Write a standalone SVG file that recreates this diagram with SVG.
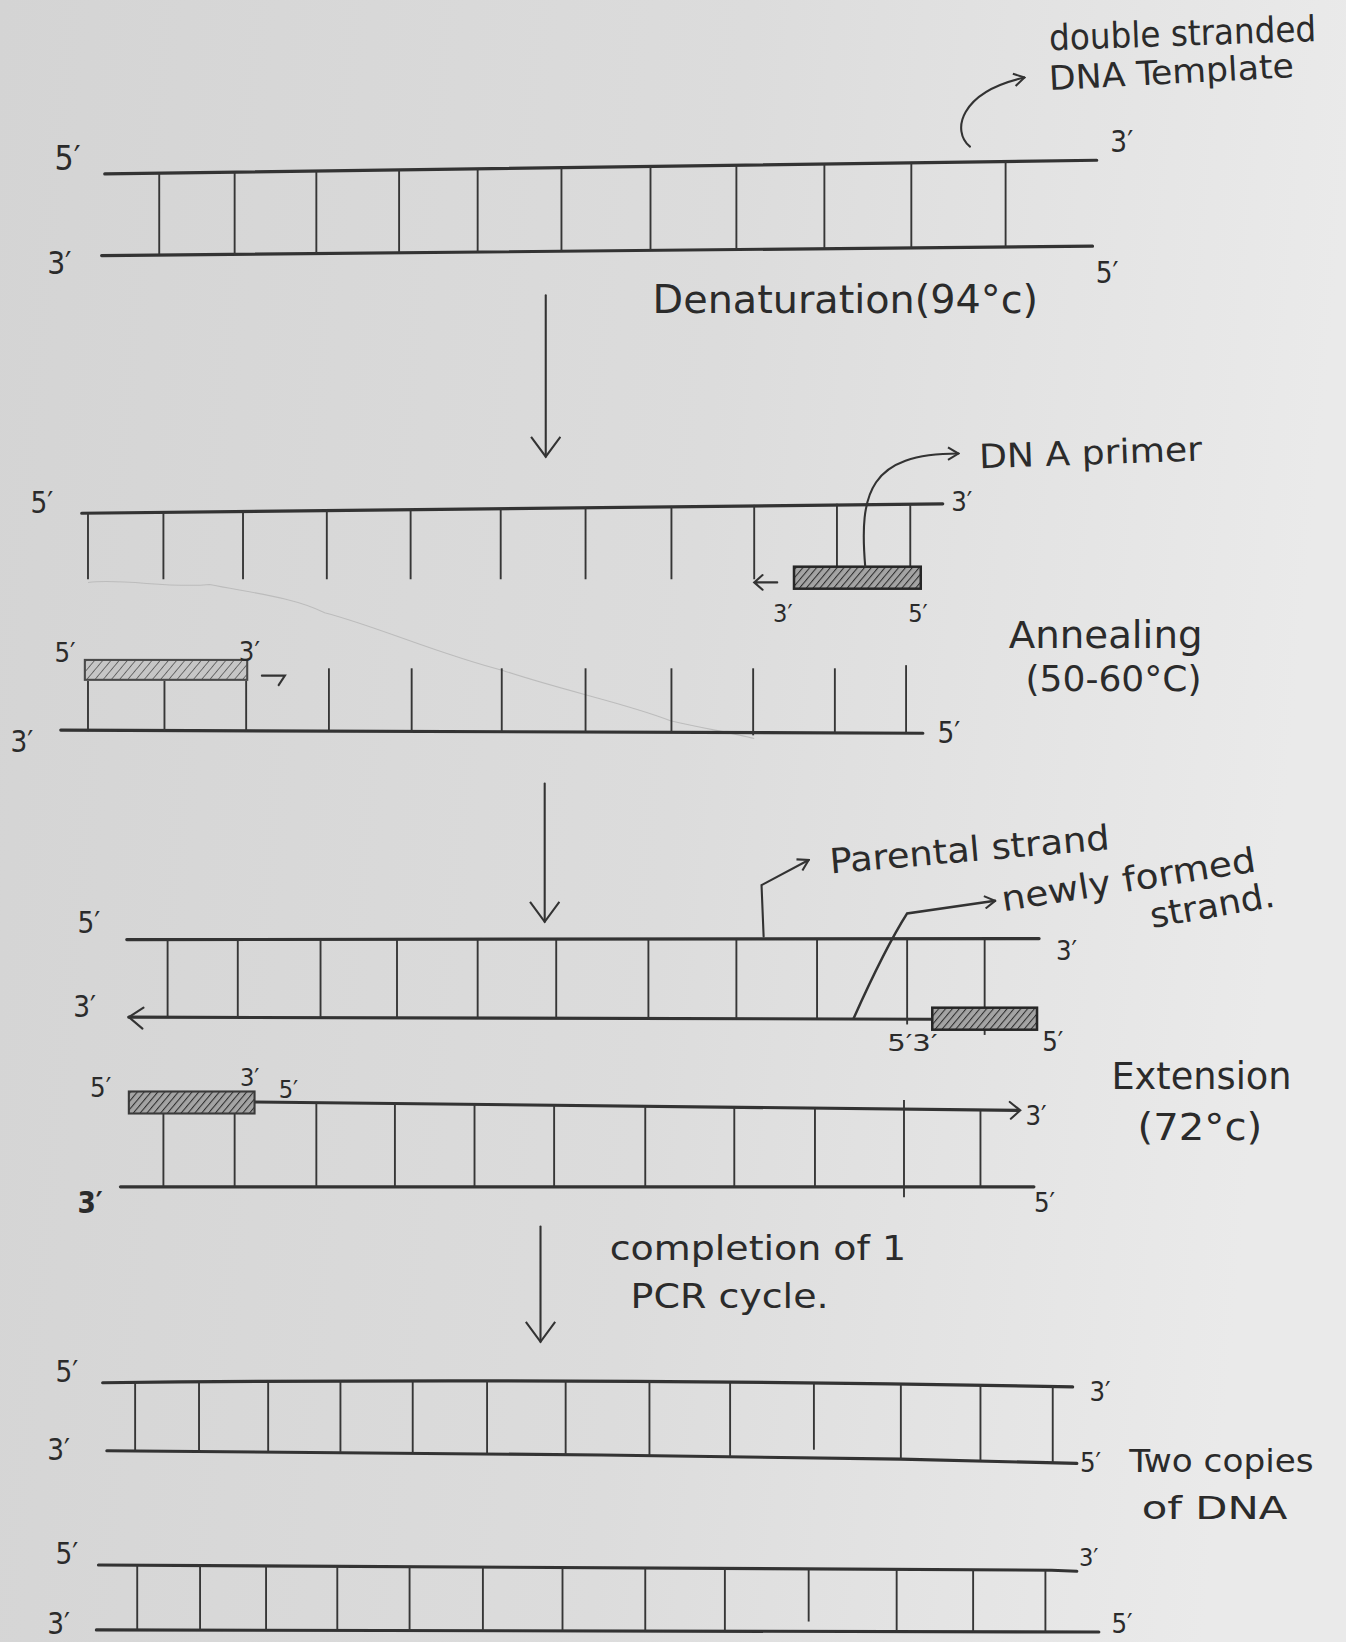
<svg xmlns="http://www.w3.org/2000/svg" width="1346" height="1642" viewBox="0 0 1346 1642">
  <defs>
    <linearGradient id="paper" x1="0" y1="0" x2="1" y2="0.12">
      <stop offset="0" stop-color="#d4d4d4"/>
      <stop offset="0.55" stop-color="#dcdcdc"/>
      <stop offset="1" stop-color="#eaeaea"/>
    </linearGradient>
    <pattern id="hatch-dark" width="5" height="5" patternUnits="userSpaceOnUse" patternTransform="rotate(40)">
      <rect width="5" height="5" fill="#a4a4a4"/>
      <line x1="0" y1="0" x2="0" y2="5" stroke="#2e2e2e" stroke-width="2"/>
    </pattern>
    <pattern id="hatch-light" width="6" height="6" patternUnits="userSpaceOnUse" patternTransform="rotate(40)">
      <rect width="6" height="6" fill="#c6c6c6"/>
      <line x1="0" y1="0" x2="0" y2="6" stroke="#555" stroke-width="1.5"/>
    </pattern>
    <marker id="vee-lg" viewBox="0 0 22 30" refX="20" refY="15" markerWidth="22" markerHeight="30" markerUnits="userSpaceOnUse" orient="auto">
      <path d="M1,1 L20,15 L1,29" fill="none" stroke="#333" stroke-width="2"/>
    </marker>
    <marker id="vee-sm" viewBox="0 0 12 14" refX="11" refY="7" markerWidth="12" markerHeight="14" markerUnits="userSpaceOnUse" orient="auto">
      <path d="M1,1 L11,7 L1,13" fill="none" stroke="#333" stroke-width="2"/>
    </marker>
  </defs>
  <style>
    .strand{fill:none;stroke:#333;stroke-width:3;stroke-linecap:round}
    .rung{stroke:#363636;stroke-width:1.8}
    .txt{font-family:"Liberation Sans Narrow","DejaVu Sans Condensed","Liberation Sans",sans-serif;fill:#2b2b2b}
    .arrow{fill:none;stroke:#333;stroke-width:2;stroke-linecap:round}
    .primer-d{fill:url(#hatch-dark);stroke:#262626;stroke-width:2.4}
    .primer-l{fill:url(#hatch-light);stroke:#4a4a4a;stroke-width:2}
  </style>

  <!-- paper -->
  <rect width="1346" height="1642" fill="url(#paper)"/>

  <g transform="scale(1.0475)">
    <!-- faint crease in the sheet -->
    <path d="M84,556 C120,552 160,562 200,558 C240,566 280,570 310,585 C360,598 420,625 480,640 C540,660 600,672 640,688 C670,695 700,700 720,705" fill="none" stroke="#bcbcbc" stroke-width="1"/>

    <!-- double stranded template -->
    <g id="template">
      <path class="strand" d="M100,166 L1047,153"/>
      <path class="strand" d="M97,244 L1043,235"/>
      <g class="rung">
        <line x1="152" y1="165" x2="152" y2="243"/>
        <line x1="224" y1="164" x2="224" y2="243"/>
        <line x1="302" y1="163" x2="302" y2="242"/>
        <line x1="381" y1="162" x2="381" y2="241"/>
        <line x1="456" y1="161" x2="456" y2="241"/>
        <line x1="536" y1="160" x2="536" y2="240"/>
        <line x1="621" y1="159" x2="621" y2="239"/>
        <line x1="703" y1="158" x2="703" y2="238"/>
        <line x1="787" y1="157" x2="787" y2="237"/>
        <line x1="870" y1="155" x2="870" y2="237"/>
        <line x1="960" y1="154" x2="960" y2="236"/>
      </g>
      <text class="txt" x="52" y="162" font-size="32">5′</text>
      <text class="txt" x="45" y="262" font-size="30">3′</text>
      <text class="txt" x="1060" y="145" font-size="28">3′</text>
      <text class="txt" x="1046" y="270" font-size="28">5′</text>
    </g>

    <g id="template-label">
      <text class="txt" x="1002" y="48" font-size="34" textLength="255" lengthAdjust="spacingAndGlyphs" transform="rotate(-2 1002 48)">double stranded</text>
      <text class="txt" x="1002" y="86" font-size="32" textLength="234" lengthAdjust="spacingAndGlyphs" transform="rotate(-3 1002 86)">DNA Template</text>
    </g>

    <g id="denaturation-label">
      <text class="txt" x="623" y="299" font-size="37" textLength="368" lengthAdjust="spacingAndGlyphs">Denaturation(94°c)</text>
    </g>

    <!-- annealing: separated strands with primers -->
    <g id="annealing-upper">
      <path class="strand" d="M78,490 L900,481"/>
      <g class="rung">
        <line x1="84" y1="490" x2="84" y2="553"/>
        <line x1="156" y1="489" x2="156" y2="553"/>
        <line x1="232" y1="488" x2="232" y2="553"/>
        <line x1="312" y1="487" x2="312" y2="553"/>
        <line x1="392" y1="486" x2="392" y2="553"/>
        <line x1="478" y1="485" x2="478" y2="553"/>
        <line x1="559" y1="484" x2="559" y2="553"/>
        <line x1="641" y1="483" x2="641" y2="553"/>
        <line x1="720" y1="482" x2="720" y2="553"/>
        <line x1="799" y1="481" x2="799" y2="541"/>
        <line x1="869" y1="481" x2="869" y2="541"/>
      </g>
      <rect class="primer-d" x="758" y="541" width="121" height="21"/>
      <path class="arrow" d="M742,556 L720,556 M728,549 L720,556 L728,563"/>
      <text class="txt" x="29" y="490" font-size="28">5′</text>
      <text class="txt" x="908" y="488" font-size="26">3′</text>
      <text class="txt" x="738" y="594" font-size="24">3′</text>
      <text class="txt" x="867" y="594" font-size="24">5′</text>
    </g>

    <g id="primer-label">
      <text class="txt" x="935" y="447" font-size="32" textLength="213" lengthAdjust="spacingAndGlyphs" transform="rotate(-2 935 447)">DN A primer</text>
    </g>

    <g id="annealing-lower">
      <path class="strand" d="M58,697 L881,700"/>
      <g class="rung">
        <line x1="84" y1="650" x2="84" y2="698"/>
        <line x1="157" y1="650" x2="157" y2="698"/>
        <line x1="235" y1="650" x2="235" y2="698"/>
        <line x1="314" y1="638" x2="314" y2="698"/>
        <line x1="393" y1="638" x2="393" y2="698"/>
        <line x1="479" y1="638" x2="479" y2="699"/>
        <line x1="559" y1="638" x2="559" y2="699"/>
        <line x1="641" y1="638" x2="641" y2="699"/>
        <line x1="719" y1="638" x2="719" y2="702"/>
        <line x1="797" y1="638" x2="797" y2="700"/>
        <line x1="865" y1="635" x2="865" y2="700"/>
      </g>
      <rect class="primer-l" x="81" y="630" width="155" height="19"/>
      <path class="arrow" d="M250,645 L272,645 L266,654"/>
      <text class="txt" x="52" y="632" font-size="26">5′</text>
      <text class="txt" x="228" y="631" font-size="26">3′</text>
      <text class="txt" x="10" y="718" font-size="28">3′</text>
      <text class="txt" x="895" y="709" font-size="28">5′</text>
    </g>

    <g id="annealing-label">
      <text class="txt" x="963" y="619" font-size="36" textLength="185" lengthAdjust="spacingAndGlyphs">Annealing</text>
      <text class="txt" x="979" y="660" font-size="34" textLength="168" lengthAdjust="spacingAndGlyphs">(50-60°C)</text>
    </g>

    <!-- extension -->
    <g id="extension-upper">
      <path class="strand" d="M121,897 L992,896"/>
      <path class="strand" d="M123,971 L889,973"/>
      <path class="arrow" d="M137,962 L123,971 L136,982"/>
      <g class="rung">
        <line x1="160" y1="897" x2="160" y2="971"/>
        <line x1="227" y1="897" x2="227" y2="971"/>
        <line x1="306" y1="897" x2="306" y2="971"/>
        <line x1="379" y1="897" x2="379" y2="972"/>
        <line x1="456" y1="897" x2="456" y2="972"/>
        <line x1="531" y1="897" x2="531" y2="972"/>
        <line x1="619" y1="897" x2="619" y2="972"/>
        <line x1="703" y1="897" x2="703" y2="972"/>
        <line x1="780" y1="897" x2="780" y2="972"/>
        <line x1="866" y1="897" x2="866" y2="978"/>
        <line x1="940" y1="897" x2="940" y2="988"/>
      </g>
      <rect class="primer-d" x="890" y="962" width="100" height="21"/>
      <text class="txt" x="74" y="891" font-size="28">5′</text>
      <text class="txt" x="70" y="971" font-size="28">3′</text>
      <text class="txt" x="1008" y="916" font-size="26">3′</text>
      <text class="txt" x="847" y="1003" font-size="22" textLength="48" lengthAdjust="spacingAndGlyphs">5′3′</text>
      <text class="txt" x="995" y="1003" font-size="26">5′</text>
    </g>

    <g id="strand-labels">
      <text class="txt" x="793" y="834" font-size="33" textLength="268" lengthAdjust="spacingAndGlyphs" transform="rotate(-5 793 834)">Parental strand</text>
      <text class="txt" x="958" y="870" font-size="33" textLength="245" lengthAdjust="spacingAndGlyphs" transform="rotate(-9 958 870)">newly formed</text>
      <text class="txt" x="1100" y="886" font-size="33" textLength="120" lengthAdjust="spacingAndGlyphs" transform="rotate(-10 1100 886)">strand.</text>
    </g>

    <g id="extension-lower">
      <path class="strand" d="M243,1052 L972,1060"/>
      <path class="arrow" d="M964,1052 L974,1060 L965,1068"/>
      <path class="strand" d="M115,1133 L987,1133"/>
      <g class="rung">
        <line x1="156" y1="1063" x2="156" y2="1133"/>
        <line x1="224" y1="1063" x2="224" y2="1133"/>
        <line x1="302" y1="1053" x2="302" y2="1133"/>
        <line x1="377" y1="1053" x2="377" y2="1133"/>
        <line x1="453" y1="1054" x2="453" y2="1133"/>
        <line x1="529" y1="1055" x2="529" y2="1133"/>
        <line x1="616" y1="1056" x2="616" y2="1133"/>
        <line x1="701" y1="1057" x2="701" y2="1133"/>
        <line x1="778" y1="1058" x2="778" y2="1133"/>
        <line x1="863" y1="1050" x2="863" y2="1143"/>
        <line x1="936" y1="1060" x2="936" y2="1133"/>
      </g>
      <rect class="primer-l" x="123" y="1042" width="120" height="21" style="fill:url(#hatch-dark);stroke:#3a3a3a"/>
      <text class="txt" x="86" y="1047" font-size="26">5′</text>
      <text class="txt" x="229" y="1037" font-size="24">3′</text>
      <text class="txt" x="266" y="1048" font-size="24">5′</text>
      <text class="txt" x="979" y="1074" font-size="26">3′</text>
      <text class="txt" x="74" y="1158" font-size="28" font-weight="bold">3′</text>
      <text class="txt" x="987" y="1157" font-size="26">5′</text>
    </g>

    <g id="extension-label">
      <text class="txt" x="1061" y="1040" font-size="36" textLength="172" lengthAdjust="spacingAndGlyphs">Extension</text>
      <text class="txt" x="1086" y="1088" font-size="36" textLength="119" lengthAdjust="spacingAndGlyphs">(72°c)</text>
    </g>

    <g id="cycle-label">
      <text class="txt" x="582" y="1203" font-size="33" textLength="283" lengthAdjust="spacingAndGlyphs">completion of 1</text>
      <text class="txt" x="602" y="1249" font-size="33" textLength="189" lengthAdjust="spacingAndGlyphs">PCR cycle.</text>
    </g>

    <!-- two copies after one cycle -->
    <g id="copy-1">
      <path class="strand" d="M98,1320 Q560,1315 1024,1324"/>
      <path class="strand" d="M102,1385 L574,1389 L860,1393 L1028,1397"/>
      <g class="rung">
        <line x1="129" y1="1319" x2="129" y2="1385"/>
        <line x1="190" y1="1319" x2="190" y2="1386"/>
        <line x1="256" y1="1319" x2="256" y2="1386"/>
        <line x1="325" y1="1318" x2="325" y2="1386"/>
        <line x1="394" y1="1318" x2="394" y2="1387"/>
        <line x1="465" y1="1318" x2="465" y2="1388"/>
        <line x1="540" y1="1318" x2="540" y2="1389"/>
        <line x1="620" y1="1318" x2="620" y2="1390"/>
        <line x1="697" y1="1319" x2="697" y2="1391"/>
        <line x1="777" y1="1320" x2="777" y2="1384"/>
        <line x1="860" y1="1321" x2="860" y2="1393"/>
        <line x1="936" y1="1322" x2="936" y2="1395"/>
        <line x1="1005" y1="1323" x2="1005" y2="1397"/>
      </g>
      <text class="txt" x="53" y="1319" font-size="28">5′</text>
      <text class="txt" x="45" y="1394" font-size="28">3′</text>
      <text class="txt" x="1040" y="1337" font-size="26">3′</text>
      <text class="txt" x="1031" y="1405" font-size="26">5′</text>
    </g>

    <g id="copies-label">
      <text class="txt" x="1078" y="1405" font-size="31" textLength="176" lengthAdjust="spacingAndGlyphs">Two copies</text>
      <text class="txt" x="1090" y="1450" font-size="31" textLength="139" lengthAdjust="spacingAndGlyphs">of DNA</text>
    </g>

    <g id="copy-2">
      <path class="strand" d="M94,1494 L1004,1499 L1028,1500"/>
      <path class="strand" d="M92,1556 L1049,1558"/>
      <g class="rung">
        <line x1="131" y1="1494" x2="131" y2="1556"/>
        <line x1="191" y1="1495" x2="191" y2="1556"/>
        <line x1="254" y1="1495" x2="254" y2="1556"/>
        <line x1="322" y1="1496" x2="322" y2="1556"/>
        <line x1="391" y1="1496" x2="391" y2="1557"/>
        <line x1="461" y1="1496" x2="461" y2="1557"/>
        <line x1="537" y1="1497" x2="537" y2="1557"/>
        <line x1="616" y1="1497" x2="616" y2="1557"/>
        <line x1="692" y1="1497" x2="692" y2="1557"/>
        <line x1="772" y1="1498" x2="772" y2="1548"/>
        <line x1="856" y1="1498" x2="856" y2="1557"/>
        <line x1="929" y1="1498" x2="929" y2="1558"/>
        <line x1="998" y1="1499" x2="998" y2="1558"/>
      </g>
      <text class="txt" x="53" y="1493" font-size="28">5′</text>
      <text class="txt" x="45" y="1560" font-size="28">3′</text>
      <text class="txt" x="1030" y="1495" font-size="24">3′</text>
      <text class="txt" x="1061" y="1559" font-size="26">5′</text>
    </g>

    <!-- connectors -->
    <g id="connectors">
      <path class="arrow" d="M521,282 L521,436" marker-end="url(#vee-lg)"/>
      <path class="arrow" d="M520,748 L520,880" marker-end="url(#vee-lg)"/>
      <path class="arrow" d="M516,1171 L516,1281" marker-end="url(#vee-lg)"/>
      <path class="arrow" d="M926,140 C908,125 916,88 978,74" marker-end="url(#vee-sm)"/>
      <path class="arrow" d="M826,541 C820,470 830,433 915,433" marker-end="url(#vee-sm)"/>
      <path class="arrow" d="M729,894 L727,845 L772,821" marker-end="url(#vee-sm)"/>
      <path class="arrow" d="M815,972 Q845,905 866,872 L950,860" marker-end="url(#vee-sm)" style="stroke-width:2.4"/>
    </g>
  </g>
</svg>
